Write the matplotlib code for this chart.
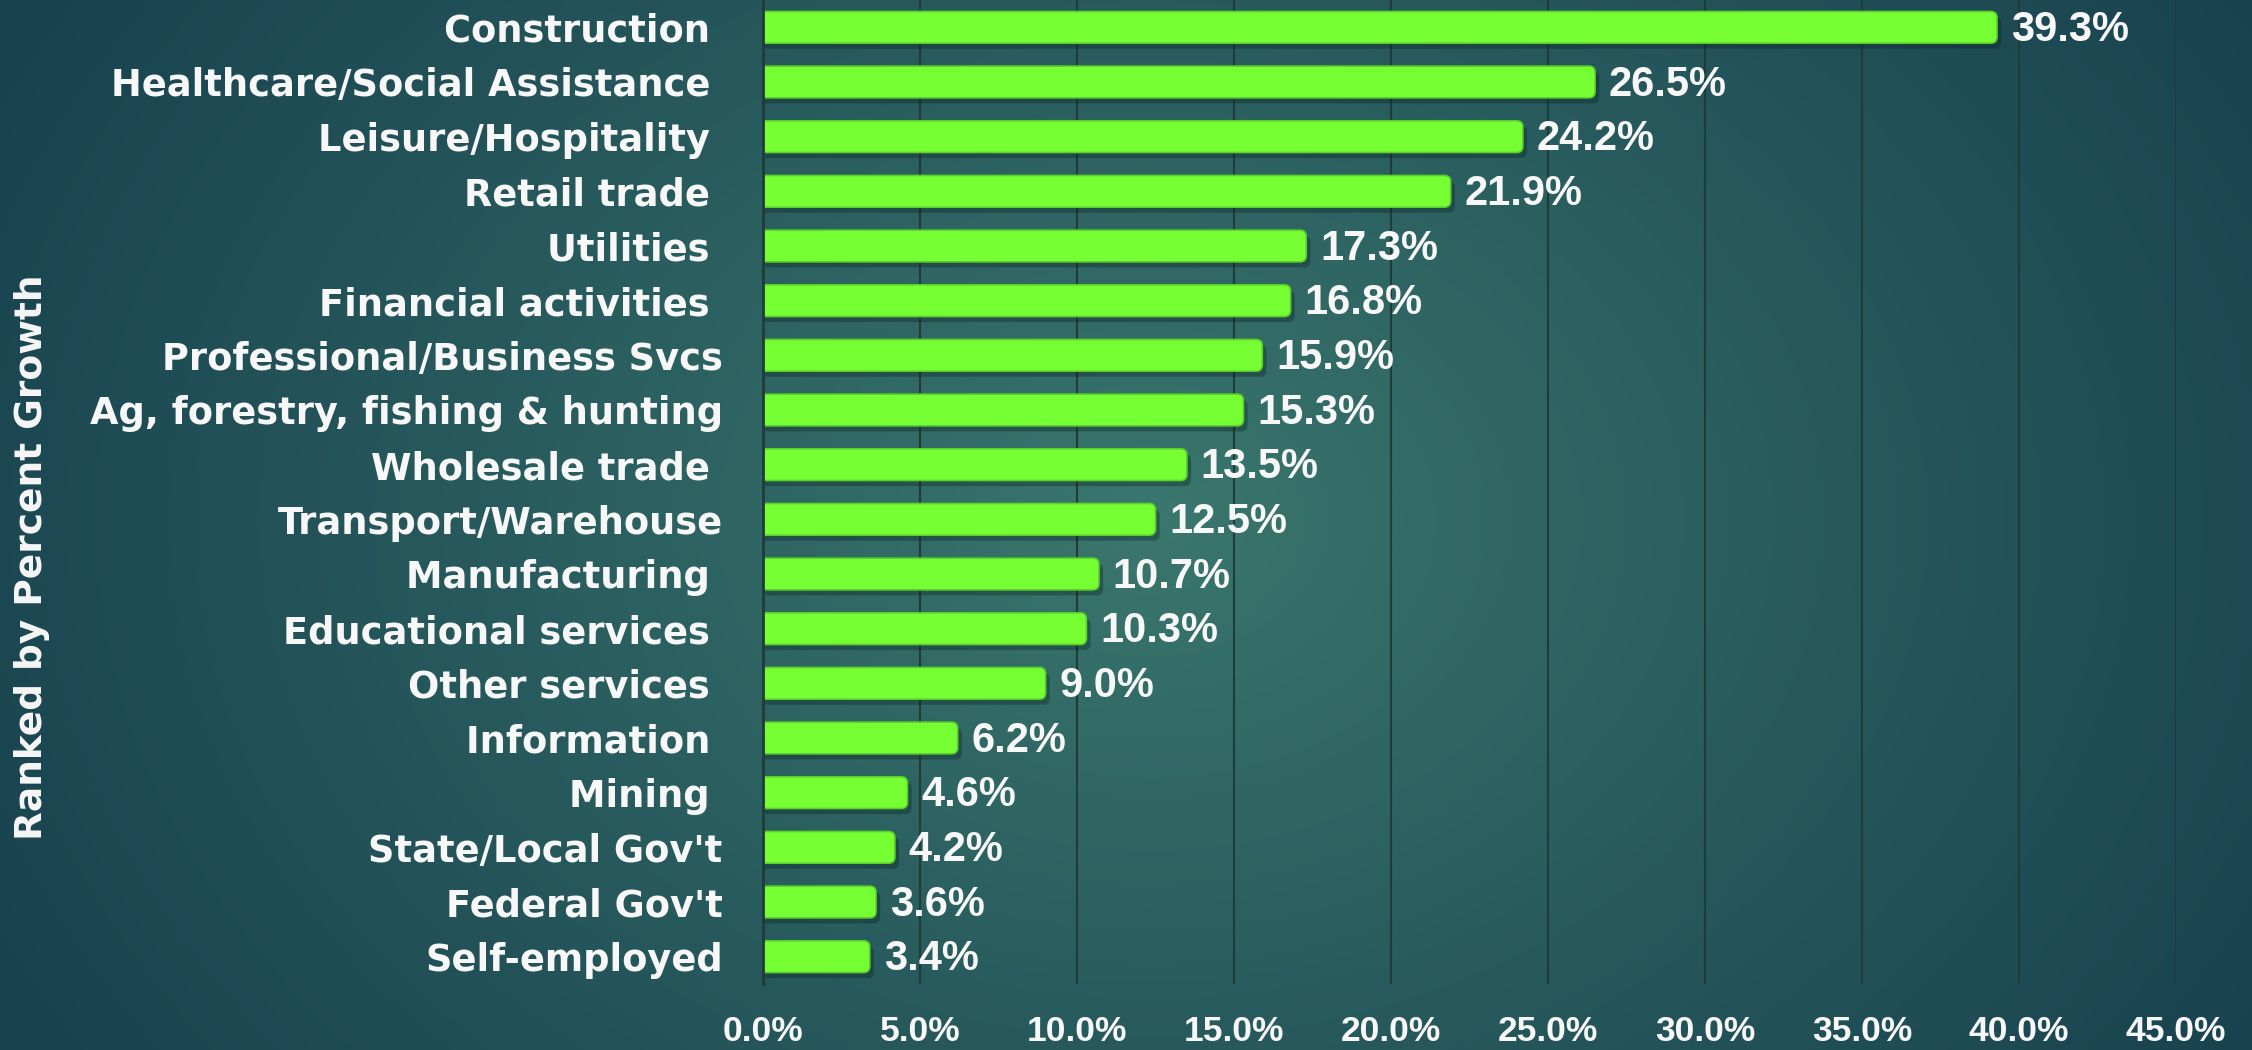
import numpy as np
import matplotlib
matplotlib.use('Agg')
import matplotlib.pyplot as plt
from matplotlib import font_manager
import matplotlib.patheffects as pe
from matplotlib.patches import FancyBboxPatch
from matplotlib.colors import to_rgb

# ─── Data ───
industries = [
    "Construction ", "Healthcare/Social Assistance ", "Leisure/Hospitality ",
    "Retail trade ", "Utilities ", "Financial activities ",
    "Professional/Business Svcs", "Ag, forestry, fishing & hunting",
    "Wholesale trade ", "Transport/Warehouse", "Manufacturing ",
    "Educational services ", "Other services ", "Information ", "Mining ",
    "State/Local Gov't", "Federal Gov't", "Self-employed",
]
growth = [39.3, 26.5, 24.2, 21.9, 17.3, 16.8, 15.9, 15.3, 13.5,
          12.5, 10.7, 10.3, 9.0, 6.2, 4.6, 4.2, 3.6, 3.4]
xticks = [0, 5, 10, 15, 20, 25, 30, 35, 40, 45]
ylabel = "Ranked by Percent Growth"


def pick(fams):
    for f in fams:
        try:
            font_manager.findfont(f, fallback_to_default=False)
            return f
        except Exception:
            pass
    return 'DejaVu Sans'


label_font = pick(['DejaVu Sans'])
num_font = pick(['Liberation Sans Narrow', 'Liberation Sans', 'DejaVu Sans'])

BAR = '#76ff33'
BAR_EDGE = '#5ccf2a'
GRID = '#203c38'
TXT = '#f7f7f7'

W, H = 2252, 1050
fig = plt.figure(figsize=(W / 100, H / 100), dpi=100)

# ─── Background gradient ───
bg = fig.add_axes([0, 0, 1, 1], zorder=-10)
gx, gy = np.meshgrid(np.linspace(0, W, 450), np.linspace(0, H, 210))
r = np.sqrt(((gx - 1150) / 1300) ** 2 + ((gy - 520) / 1000) ** 2)
t = np.clip(r, 0, 1) ** 0.9
c0 = np.array(to_rgb('#3b786e'))
c1 = np.array(to_rgb('#18424f'))
img = c0[None, None, :] * (1 - t[..., None]) + c1[None, None, :] * t[..., None]
bg.imshow(img, extent=[0, W, H, 0], aspect='auto', interpolation='bilinear')
bg.set_axis_off()

# ─── Chart ───
ax = fig.add_axes([763 / W, 66 / H, (2176 - 763) / W, 984 / H])
ax.set_facecolor('none')
n = len(industries)
y = np.arange(n)
bars = ax.barh(y, growth, height=0.58, color=BAR, zorder=3)

# rounded look: redraw each bar as a rounded box (left corners hidden by clip)
xr = 0.2
aspect = (45 / 1413) ** -1 / (18 / 984) ** -1
for b in bars:
    b.set_visible(False)
    p = FancyBboxPatch((b.get_x() - xr, b.get_y()), b.get_width() + xr,
                       b.get_height(),
                       boxstyle=f"round,pad=0,rounding_size={xr}",
                       mutation_aspect=aspect,
                       facecolor=BAR, edgecolor=BAR_EDGE, linewidth=1.2,
                       zorder=3)
    p.set_path_effects([pe.SimplePatchShadow(offset=(3, -4), alpha=0.35,
                                             shadow_rgbFace='#0b2220'),
                        pe.Normal()])
    ax.add_patch(p)

for yi, v in zip(y, growth):
    ax.annotate(f"{v:.1f}%", (v, yi), xytext=(10, -2), textcoords='offset points',
                va='center', ha='left', color=TXT, fontsize=30,
                fontweight='bold', family=num_font)

ax.set_xlim(0, 45)
ax.set_ylim(n - 0.5, -0.5)
ax.set_xticks(xticks)
ax.set_xticklabels([f"{v:.1f}%" for v in xticks], color=TXT, fontsize=25.5,
                   fontweight='bold', family=num_font)
ax.set_yticks(y)
ax.set_yticklabels(industries, color=TXT, fontsize=26.5, fontweight='bold',
                   family=label_font)
ax.tick_params(axis='x', length=0, pad=22)
ax.tick_params(axis='y', length=0, pad=29)

ax.grid(axis='x', color=GRID, linewidth=1.5)
ax.set_axisbelow(True)
for s in ['top', 'right', 'bottom']:
    ax.spines[s].set_visible(False)
ax.spines['left'].set_color(GRID)
ax.spines['left'].set_linewidth(2)
ax.spines['left'].set_zorder(4)

fig.text(32 / W, 1 - 557 / H, ylabel, rotation=90, ha='center', va='center',
         color=TXT, fontsize=27, fontweight='bold', family=label_font)

fig.savefig('out.png', dpi=100)
